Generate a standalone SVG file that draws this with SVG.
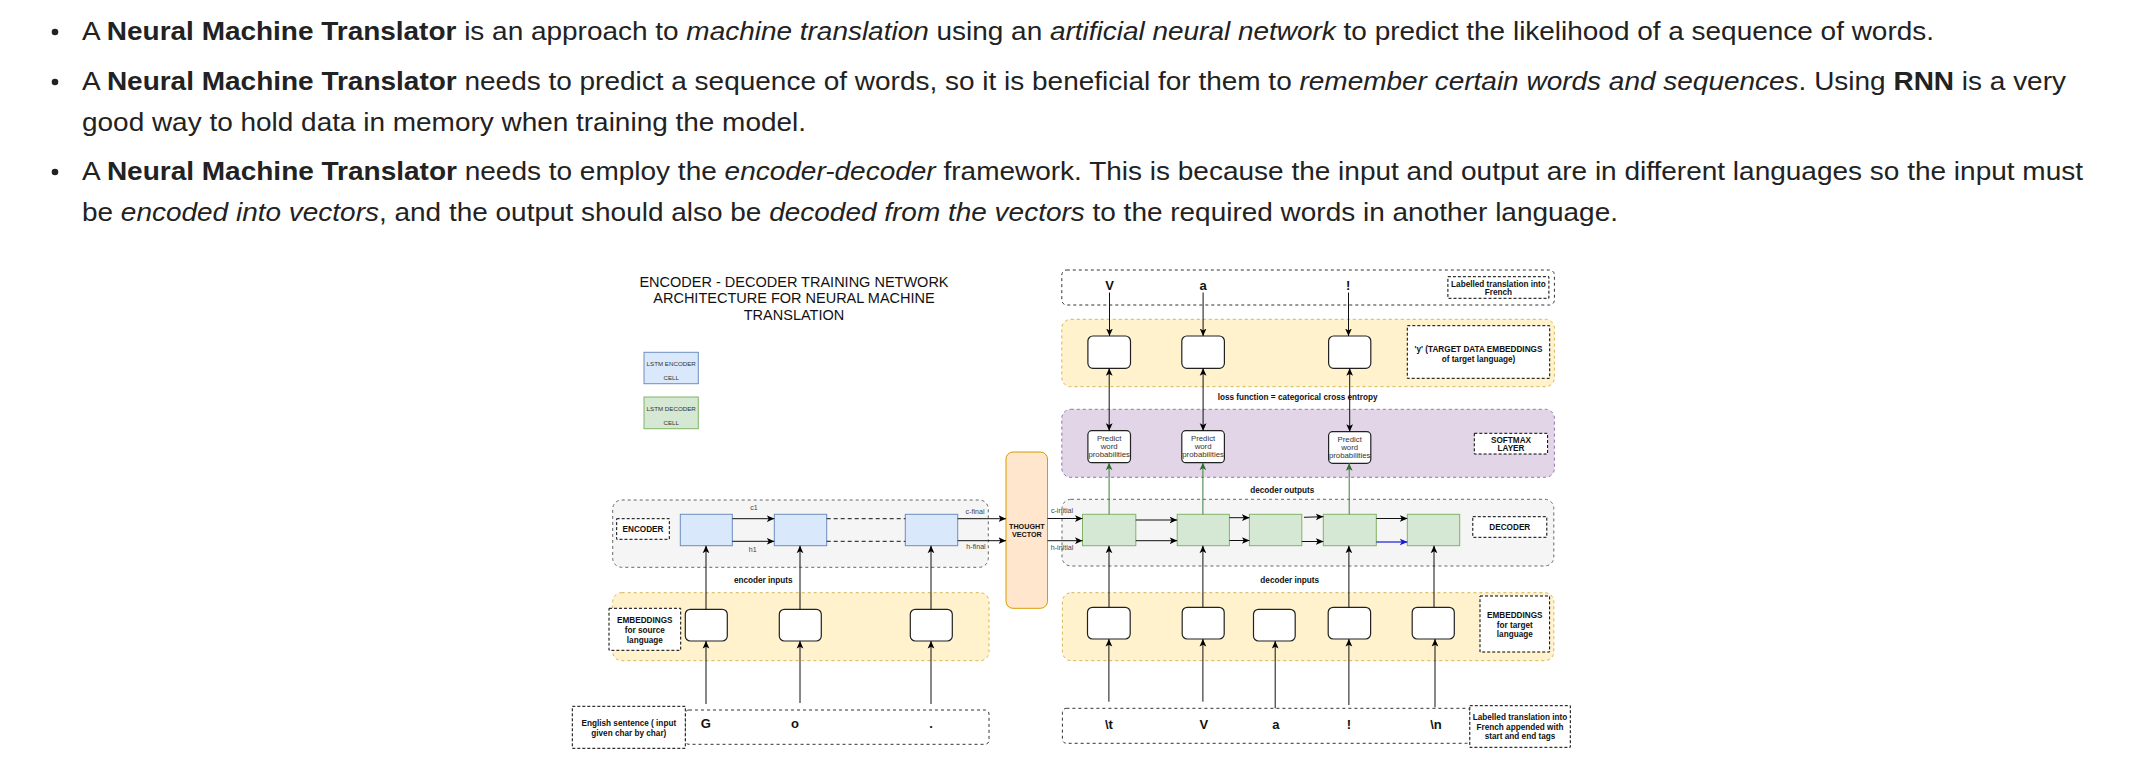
<svg xmlns="http://www.w3.org/2000/svg" width="2152" height="774" viewBox="0 0 2152 774">
<style>
text{font-family:"Liberation Sans",Arial,Helvetica,sans-serif}
.p{font-size:25px;fill:#222}
.b{font-weight:bold}
.i{font-style:italic}
.lb{font-size:8.2px;font-weight:bold;fill:#111;text-anchor:middle;dominant-baseline:central}
.ch{font-size:13px;font-weight:bold;fill:#111;text-anchor:middle;dominant-baseline:central}
.sm{font-size:7.1px;fill:#444;text-anchor:middle;dominant-baseline:central}
.pw{font-size:7.8px;fill:#333;text-anchor:middle;dominant-baseline:central}
.lg{font-size:6.2px;fill:#333;text-anchor:middle;dominant-baseline:central}
.title{font-size:14.5px;fill:#111;text-anchor:middle;dominant-baseline:central}
.dl{fill:#fff;stroke:#000;stroke-width:1;stroke-dasharray:3 2}
.cg{fill:#f5f5f5;stroke:#666;stroke-width:1;stroke-dasharray:3 3}
.cy{fill:#fff2cc;stroke:#d6b656;stroke-width:1;stroke-dasharray:3 3}
.cp{fill:#e1d5e7;stroke:#9673a6;stroke-width:1;stroke-dasharray:3 3}
.ct{fill:#fff;stroke:#333;stroke-width:1;stroke-dasharray:3 3}
.enc{fill:#dae8fc;stroke:#6c8ebf;stroke-width:1}
.dec{fill:#d5e8d4;stroke:#82b366;stroke-width:1}
.em{fill:#fff;stroke:#222;stroke-width:1.2}
.tv{fill:#ffe6cc;stroke:#d79b00;stroke-width:1}
.c{fill:none;stroke:#111;stroke-width:1;marker-end:url(#a)}
.cd{fill:none;stroke:#111;stroke-width:1;stroke-dasharray:4 3}
.cb{fill:none;stroke:#111;stroke-width:1;marker-end:url(#a);marker-start:url(#a)}
.cgr{fill:none;stroke:#3d7f3d;stroke-width:1;marker-end:url(#ag)}
.cbl{fill:none;stroke:#1a1ad6;stroke-width:1.2;marker-end:url(#ab)}
</style>
<defs>
<marker id="a" viewBox="0 0 10 10" refX="10" refY="5" markerWidth="7.5" markerHeight="7.5" markerUnits="userSpaceOnUse" orient="auto-start-reverse"><path d="M0,0.5 L10,5 L0,9.5 L2.5,5 z" fill="#000"/></marker>
<marker id="ag" viewBox="0 0 10 10" refX="10" refY="5" markerWidth="7.5" markerHeight="7.5" markerUnits="userSpaceOnUse" orient="auto"><path d="M0,0.5 L10,5 L0,9.5 L2.5,5 z" fill="#2e6e2e"/></marker>
<marker id="ab" viewBox="0 0 10 10" refX="10" refY="5" markerWidth="7.5" markerHeight="7.5" markerUnits="userSpaceOnUse" orient="auto"><path d="M0,0.5 L10,5 L0,9.5 L2.5,5 z" fill="#1a1ad6"/></marker>
</defs>
<rect width="2152" height="774" fill="#fff"/>

<g id="bullets">
<circle cx="55" cy="32" r="3.3" fill="#222"/>
<circle cx="55" cy="82" r="3.3" fill="#222"/>
<circle cx="55" cy="172" r="3.3" fill="#222"/>
<text class="p" x="82" y="40" textLength="1852" lengthAdjust="spacingAndGlyphs">A <tspan class="b">Neural Machine Translator</tspan> is an approach to <tspan class="i">machine translation</tspan> using an <tspan class="i">artificial neural network</tspan> to predict the likelihood of a sequence of words.</text>
<text class="p" x="82" y="90" textLength="1984" lengthAdjust="spacingAndGlyphs">A <tspan class="b">Neural Machine Translator</tspan> needs to predict a sequence of words, so it is beneficial for them to <tspan class="i">remember certain words and sequences</tspan>. Using <tspan class="b">RNN</tspan> is a very</text>
<text class="p" x="82" y="131" textLength="724" lengthAdjust="spacingAndGlyphs">good way to hold data in memory when training the model.</text>
<text class="p" x="82" y="180" textLength="2001" lengthAdjust="spacingAndGlyphs">A <tspan class="b">Neural Machine Translator</tspan> needs to employ the <tspan class="i">encoder-decoder</tspan> framework. This is because the input and output are in different languages so the input must</text>
<text class="p" x="82" y="221" textLength="1536" lengthAdjust="spacingAndGlyphs">be <tspan class="i">encoded into vectors</tspan>, and the output should also be <tspan class="i">decoded from the vectors</tspan> to the required words in another language.</text>
</g>

<g id="title">
<text class="title" x="794" y="281.7">ENCODER - DECODER TRAINING NETWORK</text>
<text class="title" x="794" y="298">ARCHITECTURE FOR NEURAL MACHINE</text>
<text class="title" x="794" y="315">TRANSLATION</text>
</g>

<g id="legend-encoder"><rect class="enc" x="644" y="352.3" width="54.3" height="31.4"/><text class="lg" x="671.2" y="363.3">LSTM ENCODER</text><text class="lg" x="671.2" y="377.3">CELL</text></g>
<g id="legend-decoder"><rect class="dec" x="644" y="397" width="54.3" height="31.7"/><text class="lg" x="671.2" y="408">LSTM DECODER</text><text class="lg" x="671.2" y="422.7">CELL</text></g>

<g id="encoder-group"><rect class="cg" x="612.7" y="500" width="375.6" height="67.3" rx="9"/></g>
<g id="src-embeddings-group"><rect class="cy" x="612.7" y="592.7" width="376.3" height="68" rx="9"/></g>
<g id="src-input"><rect class="ct" x="685" y="710" width="304" height="34.3" rx="4"/>
<text class="ch" x="705.7" y="723.3">G</text><text class="ch" x="795" y="723.3">o</text><text class="ch" x="931" y="723.3">.</text></g>
<g id="target-label-row"><rect class="ct" x="1061.8" y="270" width="492.6" height="35" rx="5"/>
<text class="ch" x="1109.5" y="285">V</text><text class="ch" x="1203.1" y="285">a</text><text class="ch" x="1348.2" y="285">!</text></g>
<g id="y-group"><rect class="cy" x="1061.8" y="319.3" width="492.6" height="67.4" rx="9"/></g>
<g id="softmax-group"><rect class="cp" x="1061.8" y="409.3" width="492.6" height="68" rx="9"/></g>
<g id="decoder-group"><rect class="cg" x="1062" y="499.3" width="491.8" height="66.7" rx="9"/></g>
<g id="tgt-embeddings-group"><rect class="cy" x="1062.4" y="592.7" width="491.4" height="68" rx="9"/></g>
<g id="tgt-input"><rect class="ct" x="1062.4" y="708.3" width="408" height="35" rx="4"/>
<text class="ch" x="1108.9" y="724">\t</text><text class="ch" x="1203.9" y="724">V</text><text class="ch" x="1275.9" y="724">a</text><text class="ch" x="1348.9" y="724">!</text><text class="ch" x="1436" y="724">\n</text></g>

<g id="encoder-label"><rect class="dl" x="616.7" y="518.7" width="52.6" height="20.6"/><text class="lb" x="643" y="529">ENCODER</text></g>
<g id="src-emb-label"><rect class="dl" x="609" y="608.3" width="71.7" height="42"/><text class="lb" x="644.8" y="620.7">EMBEDDINGS</text><text class="lb" x="644.8" y="630.3">for source</text><text class="lb" x="644.8" y="640">language</text></g>
<g id="english-label"><rect class="dl" x="572.3" y="706.3" width="113" height="42"/><text class="lb" x="628.8" y="723.3">English sentence ( input</text><text class="lb" x="628.8" y="733">given char by char)</text></g>
<g id="french-top-label"><rect class="dl" x="1447.9" y="276.7" width="101" height="21.6"/><text class="lb" x="1498.4" y="284">Labelled translation into</text><text class="lb" x="1498.4" y="292.3">French</text></g>
<g id="y-label"><rect class="dl" x="1407.3" y="325.7" width="142.4" height="52.6"/><text class="lb" x="1478.5" y="349">'y' (TARGET DATA EMBEDDINGS</text><text class="lb" x="1478.5" y="359">of target language)</text></g>
<g id="softmax-label"><rect class="dl" x="1474.3" y="433.3" width="73.3" height="20.7"/><text class="lb" x="1511" y="440">SOFTMAX</text><text class="lb" x="1511" y="448.3">LAYER</text></g>
<g id="decoder-label"><rect class="dl" x="1472.8" y="516.7" width="74" height="20.6"/><text class="lb" x="1509.8" y="527">DECODER</text></g>
<g id="tgt-emb-label"><rect class="dl" x="1480" y="596" width="69.6" height="56"/><text class="lb" x="1514.8" y="615">EMBEDDINGS</text><text class="lb" x="1514.8" y="625">for target</text><text class="lb" x="1514.8" y="634">language</text></g>
<g id="french-bottom-label"><rect class="dl" x="1469.8" y="705.7" width="100.5" height="41.6"/><text class="lb" x="1520" y="717.7">Labelled translation into</text><text class="lb" x="1520" y="727">French appended with</text><text class="lb" x="1520" y="736.3">start and end tags</text></g>
<g id="free-labels">
<text class="lb" x="763.3" y="580">encoder inputs</text>
<text class="lb" x="1297.6" y="397.7">loss function = categorical cross entropy</text>
<text class="lb" x="1282.3" y="490">decoder outputs</text>
<text class="lb" x="1289.7" y="580">decoder inputs</text>
</g>

<g id="thought-vector"><rect class="tv" x="1006" y="452" width="41.5" height="156.3" rx="7"/><text class="lb" style="font-size:7.2px" x="1026.8" y="526">THOUGHT</text><text class="lb" style="font-size:7.2px" x="1026.8" y="534.3">VECTOR</text></g>

<g id="enc1"><rect class="enc" x="680.3" y="514.3" width="52" height="31.4"/></g>
<g id="enc2"><rect class="enc" x="774.3" y="514.3" width="52.4" height="31.4"/></g>
<g id="enc3"><rect class="enc" x="905.3" y="514.3" width="52.4" height="31.4"/></g>

<g id="semb1"><rect class="em" x="685.3" y="609.3" width="42" height="31.7" rx="5"/></g>
<g id="semb2"><rect class="em" x="779.3" y="609.3" width="42" height="31.7" rx="5"/></g>
<g id="semb3"><rect class="em" x="910.3" y="609.3" width="42" height="31.7" rx="5"/></g>

<g id="dec1"><rect class="dec" x="1082.5" y="514.3" width="53.3" height="31.4"/></g>
<g id="dec2"><rect class="dec" x="1177.2" y="514.3" width="52.2" height="31.4"/></g>
<g id="dec3"><rect class="dec" x="1249.4" y="514.3" width="52.4" height="31.4"/></g>
<g id="dec4"><rect class="dec" x="1323.3" y="514.3" width="53" height="31.4"/></g>
<g id="dec5"><rect class="dec" x="1407.3" y="514.3" width="52.4" height="31.4"/></g>

<g id="temb1"><rect class="em" x="1087.5" y="607.3" width="42.7" height="31.7" rx="5"/></g>
<g id="temb2"><rect class="em" x="1182.2" y="607.3" width="42" height="31.7" rx="5"/></g>
<g id="temb3"><rect class="em" x="1253.5" y="609.3" width="41.7" height="31.7" rx="5"/></g>
<g id="temb4"><rect class="em" x="1328.2" y="607.3" width="42.4" height="31.7" rx="5"/></g>
<g id="temb5"><rect class="em" x="1412.2" y="607.3" width="42.1" height="31.7" rx="5"/></g>

<g id="y1"><rect class="em" x="1087.9" y="336" width="42.6" height="32.3" rx="5"/></g>
<g id="y2"><rect class="em" x="1181.8" y="336" width="42.6" height="32.3" rx="5"/></g>
<g id="y3"><rect class="em" x="1328.6" y="336" width="42.2" height="32.3" rx="5"/></g>

<g id="p1"><rect class="em" x="1087.9" y="430.7" width="42.6" height="32" rx="4"/><text class="pw" x="1109.2" y="438.3">Predict</text><text class="pw" x="1109.2" y="446.7">word</text><text class="pw" x="1109.2" y="454.6">probabilities</text></g>
<g id="p2"><rect class="em" x="1181.8" y="430.7" width="42.6" height="32" rx="4"/><text class="pw" x="1203.1" y="438.3">Predict</text><text class="pw" x="1203.1" y="446.7">word</text><text class="pw" x="1203.1" y="454.6">probabilities</text></g>
<g id="p3"><rect class="em" x="1328.6" y="431.7" width="42.2" height="31.6" rx="4"/><text class="pw" x="1349.7" y="439.3">Predict</text><text class="pw" x="1349.7" y="447.4">word</text><text class="pw" x="1349.7" y="455.3">probabilities</text></g>

<g id="connectors">
<line class="c" x1="732.3" y1="518.7" x2="774.3" y2="518.7"/>
<line class="c" x1="732.3" y1="541.3" x2="774.3" y2="541.3"/>
<line class="cd" x1="826.7" y1="518.7" x2="905.3" y2="518.7"/>
<line class="cd" x1="826.7" y1="541.3" x2="905.3" y2="541.3"/>
<line class="c" x1="957.7" y1="518.7" x2="1006" y2="518.7"/>
<line class="c" x1="957.7" y1="540.7" x2="1006" y2="540.7"/>
<line class="c" x1="706" y1="609.3" x2="706" y2="545.7"/>
<line class="c" x1="800" y1="609.3" x2="800" y2="545.7"/>
<line class="c" x1="931" y1="609.3" x2="931" y2="545.7"/>
<line class="c" x1="706" y1="704" x2="706" y2="641"/>
<line class="c" x1="800" y1="703" x2="800" y2="641"/>
<line class="c" x1="931" y1="704" x2="931" y2="641"/>
<line class="c" x1="1047.5" y1="518.5" x2="1082.5" y2="518.5"/>
<line class="c" x1="1047.5" y1="540.7" x2="1082.5" y2="540.7"/>
<line class="c" x1="1135.8" y1="520" x2="1177.2" y2="520"/>
<line class="c" x1="1135.8" y1="540.7" x2="1177.2" y2="540.7"/>
<line class="c" x1="1229.4" y1="517.7" x2="1249.4" y2="517.7"/>
<line class="c" x1="1229.4" y1="540.5" x2="1249.4" y2="540.5"/>
<line class="c" x1="1304" y1="517.3" x2="1323.3" y2="516.7"/>
<line class="c" x1="1301.8" y1="541.5" x2="1323.3" y2="541.5"/>
<line class="c" x1="1376.3" y1="518.5" x2="1407.3" y2="518.5"/>
<line class="cbl" x1="1376.3" y1="542" x2="1407.3" y2="542"/>
<line class="cgr" x1="1109.1" y1="514.3" x2="1109.1" y2="462.7"/>
<line class="cgr" x1="1202.9" y1="514.3" x2="1202.9" y2="462.7"/>
<line class="cgr" x1="1349.2" y1="514.3" x2="1349.2" y2="463.3"/>
<line class="c" x1="1109" y1="607.3" x2="1109" y2="545.7"/>
<line class="c" x1="1202.9" y1="607.3" x2="1202.9" y2="545.7"/>
<line class="c" x1="1348.9" y1="607.3" x2="1348.9" y2="545.7"/>
<line class="c" x1="1434" y1="607.3" x2="1434" y2="545.7"/>
<line class="c" x1="1108.9" y1="701.7" x2="1108.9" y2="639"/>
<line class="c" x1="1202.9" y1="701.7" x2="1202.9" y2="639"/>
<line class="c" x1="1275.2" y1="708.3" x2="1275.2" y2="641"/>
<line class="c" x1="1348.9" y1="705" x2="1348.9" y2="639"/>
<line class="c" x1="1435" y1="707.3" x2="1435" y2="639"/>
<line class="cb" x1="1109.2" y1="368.3" x2="1109.2" y2="430.7"/>
<line class="cb" x1="1203.1" y1="368.3" x2="1203.1" y2="430.7"/>
<line class="cb" x1="1349.7" y1="368.3" x2="1349.7" y2="431.7"/>
<line class="c" x1="1109.5" y1="292.5" x2="1109.5" y2="336"/>
<line class="c" x1="1203.1" y1="292.5" x2="1203.1" y2="336"/>
<line class="c" x1="1348.5" y1="292.5" x2="1348.5" y2="336"/>
</g>

<g id="connector-labels">
<text class="sm" x="754" y="508.3">c1</text>
<text class="sm" x="752.7" y="550">h1</text>
<text class="sm" x="975" y="511.7">c-final</text>
<text class="sm" x="976" y="547.3">h-final</text>
<text class="sm" x="1062" y="510.7">c-initial</text>
<text class="sm" x="1062" y="548.3">h-initial</text>
</g>
</svg>
